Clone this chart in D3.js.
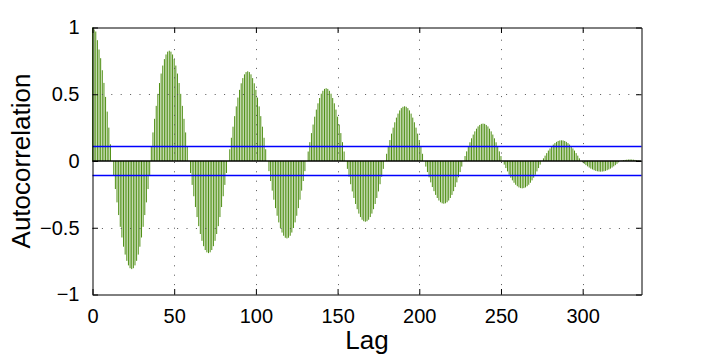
<!DOCTYPE html>
<html><head><meta charset="utf-8">
<script src="https://cdn.jsdelivr.net/npm/d3@7"></script>
<style>
body{margin:0;background:#fff}
svg{display:block}
text{font-family:"Liberation Sans",Arial,Helvetica,sans-serif;fill:#000}
</style>
</head><body>
<svg id="chart" width="709" height="355"></svg>
<script>
// Sample autocorrelation, lags 0..335
const acf = [
1.000,0.985,0.970,0.905,0.835,0.770,0.680,0.585,0.480,0.370,0.250,0.125,
0,
-0.106,-0.210,-0.310,-0.405,-0.493,-0.573,-0.642,-0.701,-0.748,-0.782,-0.803,-0.810,-0.803,-0.782,-0.748,-0.701,-0.642,-0.573,-0.493,-0.405,-0.310,-0.210,-0.106,
0.108,0.214,0.316,0.413,0.503,0.584,0.655,0.715,0.763,0.798,0.819,0.826,0.819,0.798,0.763,0.715,0.655,0.584,0.503,0.413,0.316,0.214,0.108,
0,
-0.090,-0.179,-0.264,-0.345,-0.420,-0.488,-0.547,-0.598,-0.638,-0.667,-0.684,-0.690,-0.684,-0.667,-0.638,-0.598,-0.547,-0.488,-0.420,-0.345,-0.264,-0.179,-0.090,
0,
0.088,0.174,0.257,0.336,0.409,0.475,0.533,0.582,0.621,0.649,0.666,0.672,0.666,0.649,0.621,0.582,0.533,0.475,0.409,0.336,0.257,0.174,0.088,
0,
-0.076,-0.150,-0.222,-0.290,-0.353,-0.410,-0.460,-0.502,-0.536,-0.560,-0.575,-0.580,-0.575,-0.560,-0.536,-0.502,-0.460,-0.410,-0.353,-0.290,-0.222,-0.150,-0.076,
0,
0.071,0.141,0.209,0.273,0.332,0.385,0.432,0.472,0.504,0.526,0.540,0.545,0.540,0.526,0.504,0.472,0.432,0.385,0.332,0.273,0.209,0.141,0.071,
0,
-0.059,-0.118,-0.174,-0.228,-0.277,-0.322,-0.361,-0.394,-0.420,-0.440,-0.451,-0.455,-0.451,-0.440,-0.420,-0.394,-0.361,-0.322,-0.277,-0.228,-0.174,-0.118,-0.059,
0,
0.054,0.106,0.157,0.205,0.250,0.290,0.325,0.355,0.379,0.396,0.406,0.410,0.406,0.396,0.379,0.355,0.325,0.290,0.250,0.205,0.157,0.106,0.054,
0,
-0.042,-0.083,-0.122,-0.160,-0.195,-0.226,-0.254,-0.277,-0.296,-0.309,-0.317,-0.320,-0.317,-0.309,-0.296,-0.277,-0.254,-0.226,-0.195,-0.160,-0.122,-0.083,-0.042,
0,
0.037,0.072,0.107,0.140,0.170,0.198,0.222,0.242,0.259,0.270,0.278,0.280,0.278,0.270,0.259,0.242,0.222,0.198,0.170,0.140,0.107,0.072,0.037,
0,
-0.027,-0.053,-0.078,-0.103,-0.125,-0.145,-0.163,-0.178,-0.189,-0.198,-0.203,-0.205,-0.203,-0.198,-0.189,-0.178,-0.163,-0.145,-0.125,-0.103,-0.078,-0.053,-0.027,
0,
0.020,0.040,0.059,0.078,0.094,0.110,0.123,0.134,0.143,0.150,0.154,0.155,0.154,0.150,0.143,0.134,0.123,0.110,0.094,0.078,0.059,0.040,0.020,
0,
-0.010,-0.021,-0.031,-0.040,-0.049,-0.057,-0.063,-0.069,-0.074,-0.077,-0.079,-0.080,-0.079,-0.077,-0.074,-0.069,-0.063,-0.057,-0.049,-0.040,-0.031,-0.021,-0.010,
0,
0.003,0.006,0.008,0.010,0.011,0.012,0.011,0.010,0.008,0.006,0.004,0.002
];
const lags = acf.map((_, i) => i);
const xTicks = [0, 50, 100, 150, 200, 250, 300];
const yTicks = [-1, -0.5, 0, 0.5, 1];
const bounds = [0.109, -0.109];
const xLabel = "Lag";
const yLabel = "Autocorrelation";

const svg = d3.select("#chart");
const L = 92.5, R = 641.5, T = 27.5, B = 294.5;
const x = d3.scaleLinear().domain([0, 336]).range([L, R]);
const y = d3.scaleLinear().domain([-1, 1]).range([B, T]);

svg.append("rect").attr("x",0).attr("y",0).attr("width",709).attr("height",355).attr("fill","#fff");

// stems
svg.append("g").selectAll("line").data(lags).join("line")
  .attr("x1", d => x(d)).attr("x2", d => x(d))
  .attr("y1", y(0)).attr("y2", d => y(acf[d]))
  .attr("stroke", "#4f8f14").attr("stroke-width", 1);

// grid (dotted)
const grid = svg.append("g").attr("stroke", "#555").attr("stroke-width", 1).attr("stroke-dasharray", "1 8.4");
grid.selectAll(".gx").data(xTicks.filter(v => v > 0)).join("line")
  .attr("x1", d => Math.round(x(d)) + 0.5).attr("x2", d => Math.round(x(d)) + 0.5)
  .attr("y1", B).attr("y2", T);
grid.selectAll(".gy").data(yTicks.filter(v => v !== 0 && Math.abs(v) !== 1)).join("line")
  .attr("y1", d => Math.round(y(d)) + 0.5).attr("y2", d => Math.round(y(d)) + 0.5)
  .attr("x1", L).attr("x2", R);

// confidence bounds (pixel-snapped)
svg.append("g").selectAll("line").data(bounds).join("line")
  .attr("x1", L).attr("x2", R)
  .attr("y1", d => Math.floor(y(d)) + 0.5).attr("y2", d => Math.floor(y(d)) + 0.5)
  .attr("stroke", "#0000ff").attr("stroke-width", 1.3);

// zero line
svg.append("line").attr("x1", L).attr("x2", R).attr("y1", y(0)).attr("y2", y(0))
  .attr("stroke", "#000").attr("stroke-width", 1.6);

// axes (box with inside ticks)
const tickLen = 5.5;
const axB = svg.append("g").attr("transform", `translate(0,${B})`)
  .call(d3.axisBottom(x).tickValues(xTicks).tickSizeInner(-tickLen).tickSizeOuter(0).tickPadding(14).tickFormat(d3.format("d")));
const axT = svg.append("g").attr("transform", `translate(0,${T})`)
  .call(d3.axisTop(x).tickValues(xTicks).tickSizeInner(-tickLen).tickSizeOuter(0).tickFormat(""));
const axL = svg.append("g").attr("transform", `translate(${L},0)`)
  .call(d3.axisLeft(y).tickValues(yTicks).tickSizeInner(-tickLen).tickSizeOuter(0).tickPadding(13).tickFormat(d3.format("")));
const axR = svg.append("g").attr("transform", `translate(${R},0)`)
  .call(d3.axisRight(y).tickValues(yTicks).tickSizeInner(-tickLen).tickSizeOuter(0).tickFormat(""));
[axB, axT, axL, axR].forEach(a => {
  a.select(".domain").attr("stroke", "#000").attr("stroke-width", 1);
  a.selectAll(".tick line").attr("stroke", "#000");
  a.selectAll(".tick text").attr("font-size", 20).attr("font-family", '"Liberation Sans",Arial,sans-serif').attr("fill", "#000");
});

// axis labels
svg.append("text").attr("x", (L + R) / 2).attr("y", 349).attr("text-anchor", "middle")
  .attr("font-size", 26).text(xLabel);
svg.append("text").attr("transform", `translate(30,${(T + B) / 2}) rotate(-90)`).attr("text-anchor", "middle")
  .attr("font-size", 26).text(yLabel);
</script>
</body></html>
